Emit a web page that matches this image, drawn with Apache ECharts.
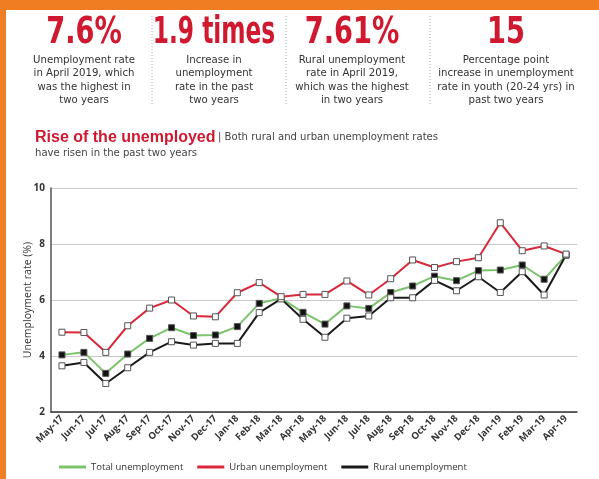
<!DOCTYPE html>
<html>
<head>
<meta charset="utf-8">
<script src="https://cdn.jsdelivr.net/npm/echarts@6/dist/echarts.min.js"></script>
<style>
  html, body { margin: 0; padding: 0; background: #f07d22; }
  #card { position: absolute; left: 6px; top: 10px; width: 593px; height: 469px; background: #fff; }
  #chart { position: absolute; left: 0; top: 0; width: 599px; height: 479px; }
</style>
</head>
<body>
<div id="card"></div>
<div id="chart"></div>
<script>
// months May-17 .. Apr-19
const months = ['May-17', 'Jun-17', 'Jul-17', 'Aug-17', 'Sep-17', 'Oct-17', 'Nov-17', 'Dec-17',
  'Jan-18', 'Feb-18', 'Mar-18', 'Apr-18', 'May-18', 'Jun-18', 'Jul-18', 'Aug-18', 'Sep-18',
  'Oct-18', 'Nov-18', 'Dec-18', 'Jan-19', 'Feb-19', 'Mar-19', 'Apr-19'];

const totalRate = [4.04, 4.13, 3.38, 4.07, 4.63, 5.01, 4.73, 4.75, 5.05, 5.88, 6.06, 5.56,
  5.14, 5.79, 5.70, 6.27, 6.50, 6.85, 6.69, 7.05, 7.07, 7.25, 6.74, 7.60];
const urbanRate = [4.85, 4.84, 4.13, 5.08, 5.71, 6.00, 5.43, 5.40, 6.26, 6.62, 6.12, 6.20,
  6.20, 6.68, 6.18, 6.76, 7.43, 7.16, 7.37, 7.51, 8.76, 7.76, 7.93, 7.64];
const ruralRate = [3.65, 3.77, 3.02, 3.58, 4.13, 4.51, 4.39, 4.45, 4.45, 5.55, 6.04, 5.31,
  4.67, 5.35, 5.43, 6.08, 6.08, 6.70, 6.33, 6.83, 6.27, 7.01, 6.18, 7.61];

const yTicks = [2, 4, 6, 8, 10];

// headline figures
const statValues = ['7.6%', '1.9 times', '7.61%', '15'];
const statNotes = [
  ['Unemployment rate', 'in April 2019, which', 'was the highest in', 'two years'],
  ['Increase in', 'unemployment', 'rate in the past', 'two years'],
  ['Rural unemployment', 'rate in April 2019,', 'which was the highest', 'in two years'],
  ['Percentage point', 'increase in unemployment', 'rate in youth (20-24 yrs) in', 'past two years']
];
// layout of the headline strip
const statCenters = [84, 214, 352, 506];
const statSqueeze = [0.82, 0.7, 0.82, 0.82];
const dividers = [152, 286, 430];

const RED = '#d0182f';
const NARROW = '"DejaVu Sans Condensed", "Liberation Sans Narrow", "Liberation Sans", sans-serif';

const graphics = [];
statValues.forEach((v, i) => {
  graphics.push({
    type: 'text', x: statCenters[i], y: 15, scaleX: statSqueeze[i],
    style: { text: v, fill: RED, fontFamily: NARROW, fontWeight: 'bold', fontSize: 37,
      align: 'center', verticalAlign: 'top' }
  });
  graphics.push({
    type: 'text', x: statCenters[i], y: 53,
    style: { text: statNotes[i].join('\n'), fill: '#333', fontFamily: NARROW, fontSize: 11.3,
      align: 'center', verticalAlign: 'top', lineHeight: 13.5 }
  });
});
dividers.forEach(x => {
  graphics.push({
    type: 'line', shape: { x1: x, y1: 16, x2: x, y2: 106 },
    style: { stroke: '#aaa', lineWidth: 1, lineDash: [1, 2] }
  });
});
graphics.push({
  type: 'text', x: 35, y: 130,
  style: { text: 'Rise of the unemployed', fill: RED, fontFamily: 'Liberation Sans', fontWeight: 'bold',
    fontSize: 16, verticalAlign: 'top' }
});
graphics.push({
  type: 'text', x: 218, y: 132,
  style: { text: '| Both rural and urban unemployment rates', fill: '#444', fontFamily: NARROW,
    fontSize: 11.2, verticalAlign: 'top' }
});
graphics.push({
  type: 'text', x: 35, y: 148,
  style: { text: 'have risen in the past two years', fill: '#444', fontFamily: NARROW,
    fontSize: 11.2, verticalAlign: 'top' }
});

function lineSeries(name, data, color, markerFill) {
  return {
    name, type: 'line', data,
    symbol: 'rect', symbolSize: 6,
    lineStyle: { color, width: 2 },
    itemStyle: { color: markerFill, borderColor: '#555', borderWidth: 1 },
    emphasis: { disabled: true },
    z: name === 'Urban unemployment' ? 3 : 2
  };
}

const chart = echarts.init(document.getElementById('chart'), null, { renderer: 'canvas' });
chart.setOption({
  animation: false,
  backgroundColor: 'transparent',
  graphic: graphics,
  grid: { left: 51, right: 22, top: 188, bottom: 67 },
  legend: {
    left: 54, top: 457, itemWidth: 27, itemHeight: 3, itemGap: 14,
    icon: 'rect',
    textStyle: { fontSize: 9.5, color: '#333', fontFamily: 'Open Sans' },
    data: [
      { name: 'Total unemployment', itemStyle: { color: '#7cc26c', borderWidth: 0 } },
      { name: 'Urban unemployment', itemStyle: { color: '#d8283a', borderWidth: 0 } },
      { name: 'Rural unemployment', itemStyle: { color: '#1a1a1a', borderWidth: 0 } }
    ]
  },
  xAxis: {
    type: 'category', data: months, boundaryGap: true,
    axisLine: { lineStyle: { color: '#333', width: 1.5 } },
    axisTick: { alignWithLabel: true, inside: true, length: 5, lineStyle: { color: '#333' } },
    axisLabel: { rotate: 45, interval: 0, fontSize: 9.5, color: '#333', fontWeight: 'bold',
      fontFamily: 'Open Sans', margin: 5 }
  },
  yAxis: {
    type: 'value', min: yTicks[0], max: yTicks[yTicks.length - 1], interval: 2,
    name: 'Unemployment rate (%)', nameLocation: 'middle', nameGap: 17, nameMoveOverlap: false,
    nameTextStyle: { fontSize: 10.5, color: '#333', fontFamily: 'Open Sans' },
    axisLine: { show: true, lineStyle: { color: '#555', width: 1.5 } },
    axisTick: { show: false },
    axisLabel: { fontSize: 10, color: '#333', fontWeight: 'bold', fontFamily: 'Open Sans', margin: 6 },
    splitLine: { lineStyle: { color: '#c8c8c8', width: 1.2 } }
  },
  series: [
    lineSeries('Total unemployment', totalRate, '#7cc26c', '#111'),
    lineSeries('Urban unemployment', urbanRate, '#d8283a', '#fff'),
    lineSeries('Rural unemployment', ruralRate, '#1a1a1a', '#fff')
  ]
});
</script>
</body>
</html>
